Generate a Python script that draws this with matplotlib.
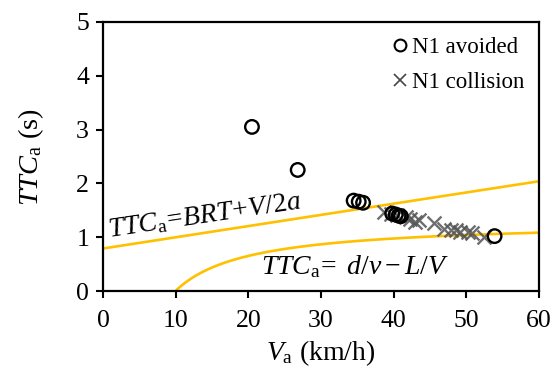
import numpy as np
import matplotlib
matplotlib.use("Agg")
import matplotlib.pyplot as plt
from matplotlib.lines import Line2D

plt.rcParams['font.family'] = ['Liberation Serif', 'DejaVu Serif']
plt.rcParams['mathtext.fontset'] = 'custom'
plt.rcParams['mathtext.rm'] = 'Liberation Serif'
plt.rcParams['mathtext.it'] = 'Liberation Serif:italic'
plt.rcParams['mathtext.bf'] = 'Liberation Serif:bold'

# Observed cases: N1 avoided
avoided_v = [20.5, 26.8, 34.5, 35.2, 35.8, 39.8, 40.3, 40.7, 41.0, 53.9]
avoided_ttc = [3.05, 2.25, 1.68, 1.66, 1.64, 1.44, 1.42, 1.40, 1.39, 1.02]

# Observed cases: N1 collision
collision_v = [38.7, 39.6, 40.5, 41.7, 42.3, 43.0, 43.5, 45.6, 46.9, 47.9,
               48.6, 49.2, 50.2, 50.8, 52.5]
collision_ttc = [1.47, 1.44, 1.41, 1.38, 1.33, 1.29, 1.32, 1.26, 1.16, 1.13,
                 1.13, 1.10, 1.10, 1.07, 1.01]

# Model parameters
BRT = 0.79      # brake reaction time (s)
decel = 6.67    # deceleration (m/s^2)
d_over_v = 1.30 # d/v (s)
L = 3.6         # length (m)

x_ticks = [0, 10, 20, 30, 40, 50, 60]
y_ticks = [0, 1, 2, 3, 4, 5]

fig = plt.figure(figsize=(5.55, 3.83), dpi=100)
ax = fig.add_axes([0.1856, 0.2402, 0.7854, 0.7024])

gold = '#FFC000'
v1 = np.linspace(0, 60, 200)
ax.plot(v1, BRT + (v1 / 3.6) / (2 * decel), color=gold, lw=1.9, zorder=2)
v2 = np.linspace(9.0, 60, 400)
ax.plot(v2, d_over_v - L / (v2 / 3.6), color=gold, lw=1.9, zorder=2)

ax.scatter(collision_v, collision_ttc, marker='x', s=100, color='#555555',
           linewidths=1.7, alpha=0.85, zorder=3)
ax.scatter(avoided_v, avoided_ttc, marker='o', s=95, facecolors='none',
           edgecolors='black', linewidths=1.7, zorder=4)

ax.set_xlim(0, 60)
ax.set_ylim(0, 5)
ax.set_xticks(x_ticks)
ax.set_yticks(y_ticks)
ax.tick_params(direction='out', length=5, width=1.5, labelsize=18.5, pad=5)
ax.tick_params(axis='x', pad=9)
for s in ax.spines.values():
    s.set_linewidth(1.6)

ax.set_xlabel(r'$V_{\rm a}$ (km/h)', fontsize=20, labelpad=4)
ax.set_ylabel(r'$TTC_{\rm a}$ (s)', fontsize=20.5, labelpad=22)

ax.text(0.8, 1.0, r'$\mathit{TTC}_{\rm a}\!=\!\mathit{BRT}\!+\!\mathit{V}/2\mathit{a}$',
        fontsize=20, rotation=8.5, rotation_mode='anchor',
        ha='left', va='baseline')
ax.text(21.8, 0.32, r'$\mathit{TTC}_{\rm a}\!=\ \mathit{d}/\mathit{v} - \mathit{L}/\mathit{V}$',
        fontsize=20, ha='left', va='baseline')

handles = [
    Line2D([], [], marker='o', ls='none', markerfacecolor='none',
           markeredgecolor='black', markersize=8.5, markeredgewidth=1.5),
    Line2D([], [], marker='x', ls='none', color='#444444',
           markersize=8, markeredgewidth=1.2),
]
ax.legend(handles, ['N1 avoided', 'N1 collision'], loc='upper right',
          frameon=False, fontsize=16.5, handlelength=0.6, handletextpad=0.2,
          labelspacing=0.62, borderaxespad=0.25, bbox_to_anchor=(1.0, 1.0))

fig.savefig('out.png', dpi=100)
